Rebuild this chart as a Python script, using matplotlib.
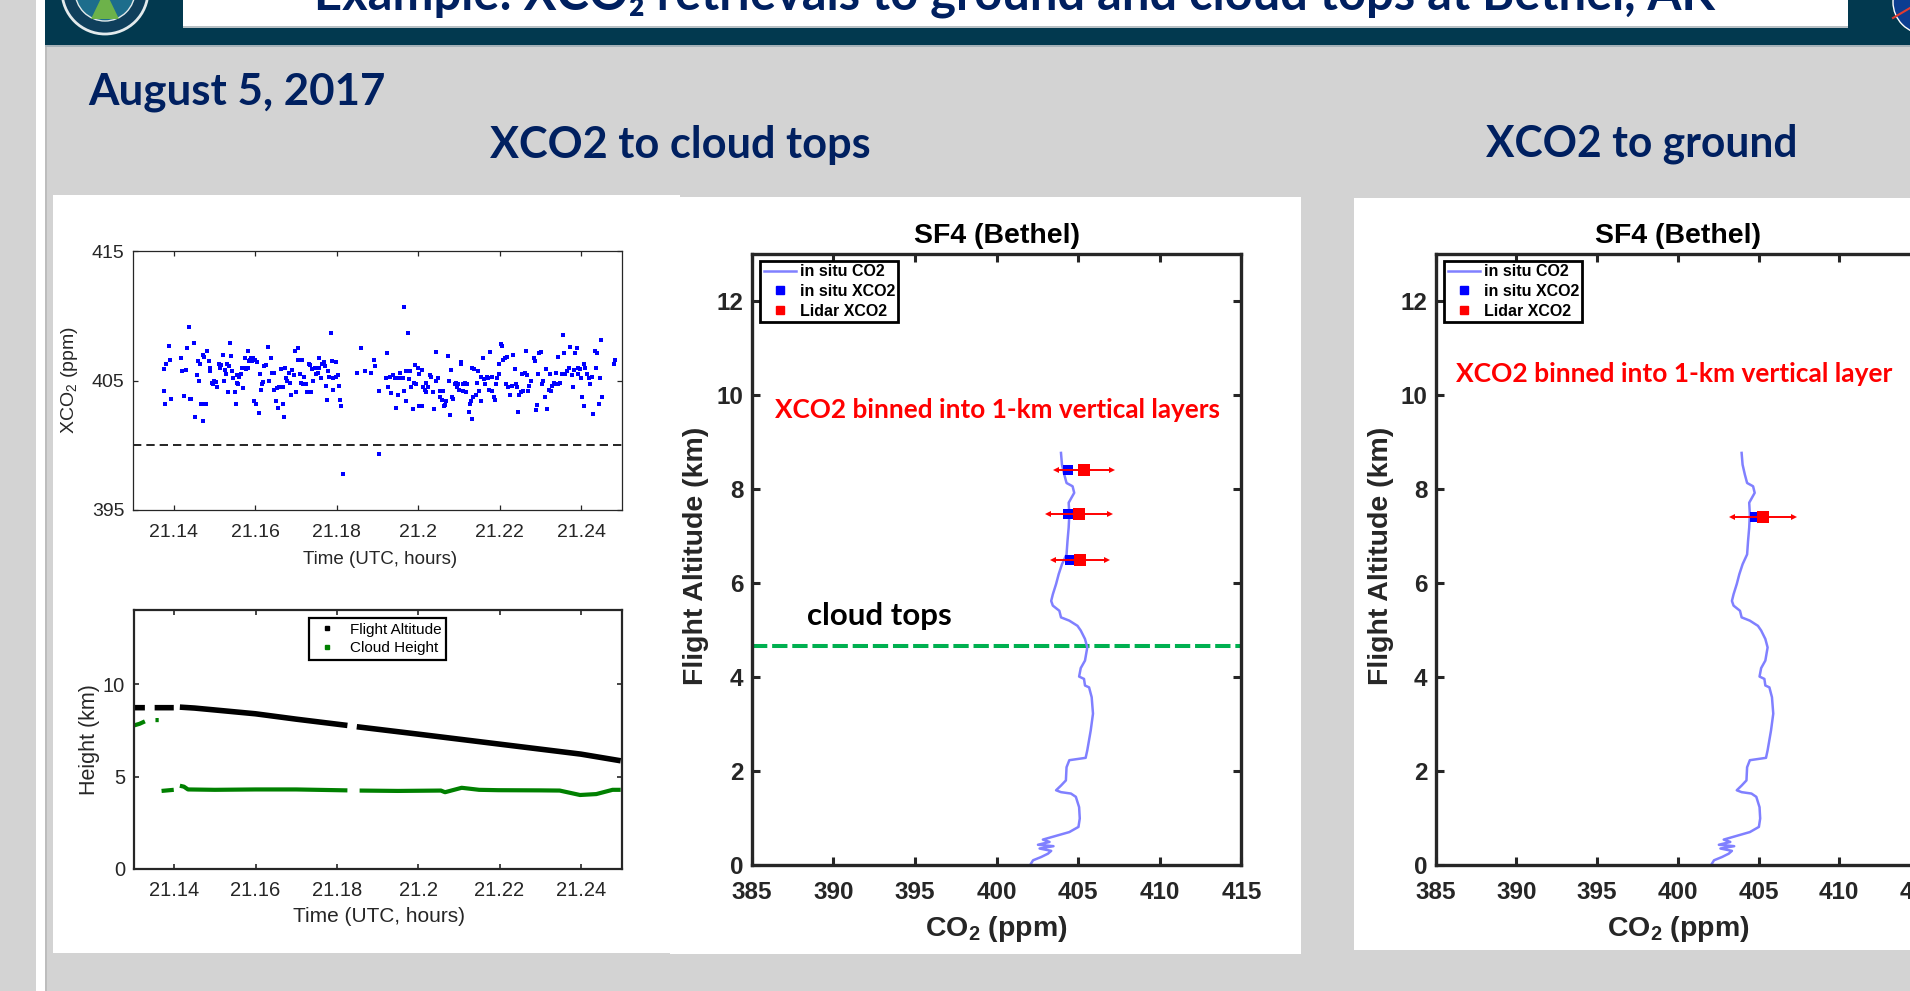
import matplotlib
matplotlib.use('Agg')
import matplotlib.pyplot as plt
from matplotlib.lines import Line2D
from matplotlib.patches import Rectangle, Circle, Polygon

W, H = 1910, 991
NAVY = '#002060'
INK = '#262626'
MATLAB_FONT = 'Liberation Sans'
SLIDE_FONT = ['Lato', 'DejaVu Sans']

plt.rcParams['font.family'] = MATLAB_FONT
plt.rcParams['mathtext.fontset'] = 'custom'
plt.rcParams['mathtext.rm'] = MATLAB_FONT
plt.rcParams['mathtext.bf'] = MATLAB_FONT + ':bold'

# XCO2 along the flight track (top left)
xco2_time = [
    21.1377, 21.1379, 21.1375, 21.1382, 21.1389, 21.1392, 21.1394, 21.1418, 21.1421, 21.1426,
    21.1433, 21.1437, 21.1439, 21.1443, 21.1429, 21.1449, 21.1452, 21.1456, 21.1460, 21.1462,
    21.1464, 21.1467, 21.1471, 21.1471, 21.1476, 21.1480, 21.1474, 21.1482, 21.1486, 21.1488,
    21.1490, 21.1494, 21.1496, 21.1499, 21.1503, 21.1507, 21.1511, 21.1513, 21.1517, 21.1522,
    21.1523, 21.1525, 21.1527, 21.1530, 21.1533, 21.1535, 21.1538, 21.1540, 21.1544, 21.1546,
    21.1550, 21.1552, 21.1554, 21.1556, 21.1558, 21.1560, 21.1564, 21.1568, 21.1570, 21.1572,
    21.1575, 21.1578, 21.1581, 21.1582, 21.1585, 21.1586, 21.1589, 21.1593, 21.1595, 21.1597,
    21.1600, 21.1603, 21.1605, 21.1609, 21.1611, 21.1614, 21.1616, 21.1619, 21.1622, 21.1626,
    21.1632, 21.1634, 21.1638, 21.1641, 21.1642, 21.1645, 21.1647, 21.1650, 21.1653, 21.1655,
    21.1659, 21.1664, 21.1667, 21.1668, 21.1671, 21.1673, 21.1675, 21.1679, 21.1682, 21.1685,
    21.1688, 21.1691, 21.1695, 21.1697, 21.1700, 21.1704, 21.1706, 21.1710, 21.1712, 21.1714,
    21.1718, 21.1720, 21.1724, 21.1728, 21.1733, 21.1734, 21.1737, 21.1739, 21.1742, 21.1746,
    21.1749, 21.1753, 21.1756, 21.1757, 21.1761, 21.1765, 21.1769, 21.1772, 21.1774, 21.1776,
    21.1778, 21.1782, 21.1786, 21.1788, 21.1790, 21.1792, 21.1797, 21.1798, 21.1802, 21.1806,
    21.1809, 21.1811, 21.1815,
    21.1850, 21.1860, 21.1870, 21.1884, 21.1891, 21.1894, 21.1903, 21.1903, 21.1921, 21.1924,
    21.1925, 21.1930, 21.1934, 21.1938, 21.1942, 21.1946, 21.1948, 21.1951, 21.1956, 21.1958,
    21.1962, 21.1965, 21.1966, 21.1969, 21.1971, 21.1975, 21.1977, 21.1979, 21.1983, 21.1987,
    21.1989, 21.1992, 21.1995, 21.1999, 21.2002, 21.2003, 21.2008, 21.2010, 21.2012, 21.2016,
    21.2018, 21.2020, 21.2024, 21.2028, 21.2032, 21.2036, 21.2038, 21.2043, 21.2044, 21.2049,
    21.2053, 21.2054, 21.2058, 21.2061, 21.2063, 21.2066, 21.2069, 21.2073, 21.2076, 21.2079,
    21.2081, 21.2084, 21.2086, 21.2090, 21.2092, 21.2094, 21.2098, 21.2100, 21.2104, 21.2106,
    21.2109, 21.2110, 21.2114, 21.2117, 21.2120, 21.2125, 21.2127, 21.2129, 21.2131, 21.2133,
    21.2135, 21.2138, 21.2141, 21.2145, 21.2147, 21.2150, 21.2153, 21.2155, 21.2159, 21.2161,
    21.2164, 21.2168, 21.2170, 21.2174, 21.2176, 21.2180, 21.2182, 21.2186, 21.2188, 21.2191,
    21.2194, 21.2197, 21.2199, 21.2202, 21.2205, 21.2209, 21.2213, 21.2215, 21.2217, 21.2221,
    21.2225, 21.2229, 21.2233, 21.2237, 21.2240, 21.2243, 21.2245, 21.2248, 21.2251, 21.2254,
    21.2258, 21.2262, 21.2265, 21.2268, 21.2270, 21.2273, 21.2276, 21.2283, 21.2287, 21.2289,
    21.2292, 21.2295, 21.2297, 21.2301, 21.2304, 21.2307, 21.2311, 21.2314, 21.2317, 21.2320,
    21.2324, 21.2325, 21.2329, 21.2332, 21.2336, 21.2338, 21.2342, 21.2344, 21.2348, 21.2352,
    21.2356, 21.2358, 21.2361, 21.2365, 21.2369, 21.2373, 21.2377, 21.2379, 21.2381, 21.2385,
    21.2389, 21.2391, 21.2393, 21.2398, 21.2399, 21.2402, 21.2406, 21.2407, 21.2410, 21.2414,
    21.2418, 21.2422, 21.2426, 21.2430, 21.2434, 21.2437, 21.2439, 21.2443, 21.2445, 21.2448,
    21.2451, 21.2480, 21.2482,
]
xco2_ppm = [
    404.2, 403.2, 405.9, 406.3, 407.7, 406.6, 403.6, 406.7, 405.7, 403.8,
    407.5, 409.1, 403.6, 403.6, 405.8, 407.9, 402.2, 405.4, 406.5, 405.0,
    406.3, 403.2, 401.9, 407.0, 403.2, 403.2, 406.8, 407.3, 406.5, 406.0,
    405.7, 404.8, 404.7, 405.0, 404.9, 404.5, 406.3, 406.0, 406.2, 407.0,
    405.0, 405.8, 405.5, 406.3, 404.1, 406.1, 407.9, 406.9, 405.7, 405.2,
    404.1, 403.2, 404.8, 405.4, 404.7, 405.3, 405.5, 406.0, 404.4, 406.0,
    406.7, 405.9, 406.0, 407.3, 406.5, 406.6, 406.7, 406.5, 406.7, 403.4,
    406.6, 403.2, 406.4, 402.5, 405.5, 404.3, 404.7, 404.9, 406.1, 406.2,
    407.6, 405.0, 406.7, 405.6, 405.6, 404.3, 405.6, 403.4, 404.4, 402.9,
    404.5, 405.9, 404.5, 403.2, 402.2, 406.0, 405.2, 405.0, 405.6, 404.8,
    403.9, 405.8, 405.4, 407.3, 404.1, 407.5, 406.6, 405.5, 404.8, 406.6,
    404.7, 405.3, 404.7, 404.1, 406.3, 406.2, 404.1, 405.9, 405.0, 406.0,
    405.5, 405.6, 406.7, 406.0, 405.2, 406.3, 406.4, 406.1, 404.6, 403.5,
    405.7, 405.3, 408.7, 406.5, 405.2, 404.3, 406.4, 405.3, 405.4, 404.6,
    403.5, 403.0, 397.8,
    405.6, 407.5, 405.7, 405.6, 406.6, 406.1, 404.2, 399.3, 405.2, 407.1,
    404.5, 405.3, 404.0, 405.4, 405.2, 402.9, 405.2, 403.9, 405.6, 405.2,
    405.2, 404.2, 410.7, 405.7, 403.4, 408.7, 405.1, 405.7, 404.5, 402.8,
    404.8, 406.2, 404.7, 406.0, 403.0, 405.5, 405.8, 403.0, 404.5, 404.3,
    404.8, 404.1, 404.5, 405.4, 405.3, 404.1, 402.8, 405.0, 407.2, 405.2,
    404.2, 403.7, 403.5, 404.2, 403.0, 403.1, 403.4, 406.9, 405.0, 402.3,
    405.8, 403.7, 403.6, 404.7, 404.8, 404.5, 404.7, 404.3, 406.3, 406.4,
    404.7, 404.2, 404.8, 404.1, 404.7, 402.6, 403.2, 403.4, 402.0, 406.0,
    403.7, 405.9, 403.9, 404.8, 405.7, 404.2, 403.4, 405.3, 406.7, 405.1,
    404.7, 405.3, 405.2, 404.3, 407.2, 405.3, 404.2, 403.7, 403.5, 404.7,
    405.2, 406.3, 405.5, 407.8, 407.7, 406.6, 406.7, 404.7, 406.8, 404.5,
    403.9, 404.6, 407.0, 405.9, 404.7, 404.5, 402.6, 403.9, 404.1, 405.5,
    404.2, 405.6, 407.3, 405.4, 404.2, 404.6, 405.0, 406.7, 406.5, 402.7,
    403.1, 405.5, 407.1, 407.2, 404.7, 405.0, 403.7, 405.9, 402.8, 404.3,
    405.5, 404.2, 404.6, 404.8, 404.7, 405.6, 406.8, 404.7, 404.8, 405.5,
    408.5, 407.1, 405.5, 405.7, 406.0, 407.6, 405.4, 404.5, 405.8, 407.1,
    407.5, 405.5, 406.0, 405.9, 405.2, 403.7, 406.3, 403.0, 406.0, 405.5,
    405.2, 404.7, 405.3, 402.4, 407.3, 406.0, 407.1, 403.2, 405.2, 408.1,
    403.7, 406.3, 406.6,
]
xco2_reference = 400.0

# aircraft altitude and lidar cloud height (bottom left), NaN marks data gaps
nan = float('nan')
flight_time = [21.1298, 21.1328, nan, 21.1352, 21.1399, nan,
               21.1414, 21.1450, 21.1600, 21.1700, 21.1826, nan,
               21.1849, 21.2000, 21.2200, 21.2400, 21.2498]
flight_alt = [8.72, 8.72, nan, 8.72, 8.72, nan,
              8.75, 8.70, 8.39, 8.10, 7.76, nan,
              7.69, 7.29, 6.75, 6.21, 5.85]
cloud_time = [21.1298, 21.1315, 21.1328, nan, 21.1354, 21.1362, nan,
              21.1369, 21.1399, nan,
              21.1414, 21.1424, 21.1434, 21.1500, 21.1600, 21.1700, 21.1826, nan,
              21.1856, 21.1950, 21.2056, 21.2066, 21.2107, 21.2150, 21.2197,
              21.2300, 21.2348, 21.2398, 21.2438, 21.2478, 21.2498]
cloud_height = [7.74, 7.85, 7.98, nan, 8.05, 8.05, nan,
                4.22, 4.28, nan,
                4.50, 4.45, 4.30, 4.28, 4.30, 4.30, 4.25, nan,
                4.24, 4.22, 4.24, 4.15, 4.39, 4.28, 4.26,
                4.25, 4.24, 4.00, 4.05, 4.28, 4.28]

time_ticks = [21.14, 21.16, 21.18, 21.20, 21.22, 21.24]
time_tick_labels = ['21.14', '21.16', '21.18', '21.2', '21.22', '21.24']

# in situ CO2 profile from the spiral
profile_co2 = [402.08, 402.24, 402.74, 403.15, 403.35, 402.64, 403.49, 402.54, 403.25, 402.84,
               403.75, 404.46, 405.02, 405.10, 405.06, 404.86, 404.56, 403.95, 403.65, 403.95,
               404.25, 404.29, 404.46, 405.46, 405.56, 405.77, 405.91, 405.83, 405.67, 405.42,
               405.36, 405.06, 405.16, 405.42, 405.56, 405.42, 405.16, 404.96, 404.46, 403.95,
               403.85, 403.45, 403.35, 403.45, 403.65, 403.81, 404.01, 404.29, 404.35, 404.42,
               404.46, 404.42, 404.76, 404.66, 404.29, 404.15, 404.01, 403.95]
profile_alt = [0.00, 0.09, 0.16, 0.23, 0.29, 0.34, 0.39, 0.42, 0.48, 0.53,
               0.62, 0.69, 0.80, 0.98, 1.22, 1.44, 1.51, 1.54, 1.58, 1.68,
               1.79, 2.07, 2.22, 2.27, 2.43, 2.85, 3.21, 3.56, 3.77, 3.81,
               3.95, 4.00, 4.18, 4.34, 4.62, 4.80, 4.98, 5.08, 5.19, 5.26,
               5.40, 5.51, 5.61, 5.75, 5.97, 6.18, 6.39, 6.60, 6.89, 7.17,
               7.45, 7.70, 7.91, 8.05, 8.12, 8.30, 8.51, 8.76]

# 1-km layers above the cloud tops
layer_alt = [8.39, 7.45, 6.48]
layer_insitu = [404.35, 404.40, 404.50]
layer_lidar = [405.36, 405.06, 405.12]
layer_err = [1.70, 1.88, 1.66]

# single layer retrieved down to the ground
ground_alt = [7.39]
ground_insitu = [404.75]
ground_lidar = [405.27]
ground_err = [1.92]

cloud_top_km = 4.65
co2_ticks = [385, 390, 395, 400, 405, 410, 415]
alt_ticks = [0, 2, 4, 6, 8, 10, 12]


def px_rect(x0, y0, x1, y1):
    return [x0 / W, 1 - y1 / H, (x1 - x0) / W, (y1 - y0) / H]


fig = plt.figure(figsize=(W / 100, H / 100), dpi=100)
fig.patch.set_facecolor('#d3d3d3')

# slide background drawn in pixel units
bg = fig.add_axes([0, 0, 1, 1])
bg.set_xlim(0, W)
bg.set_ylim(H, 0)
bg.axis('off')
bg.set_zorder(-5)


def box(x0, y0, x1, y1, color):
    bg.add_patch(Rectangle((x0, y0), x1 - x0, y1 - y0, facecolor=color, edgecolor='none'))


box(36, 0, 45, H, 'white')
box(45, 0, 47, H, '#bdbdbd')
box(45, 0, W, 45, '#02394f')
box(45, 45, W, 47, '#a7b2b8')
box(183, 0, 1848, 27, 'white')
box(183, 26, 1848, 27.5, '#b8c0c4')
box(53, 195, 680, 953, 'white')
box(670, 197, 1301, 954, 'white')
box(1354, 198, W, 950, 'white')

# project badge and agency logo in the header corners
bg.add_patch(Circle((105, -9), 43, facecolor='#0f3f5c', edgecolor='#e3eaec', lw=2))
bg.add_patch(Circle((105, -9), 30, facecolor='#1d6d8c', edgecolor='#e3eaec', lw=1))
bg.add_patch(Polygon([[91, 19], [119, 19], [105, -10]], facecolor='#6db24a'))
bg.add_patch(Circle((1925, 2), 32, facecolor='#0b3d91', edgecolor='white', lw=1))
bg.plot([1893, 1910], [18, 8], color='#e03c31', lw=1.5)

title = bg.text(314, 10, 'Example: XCO\u2082 retrievals to ground and cloud tops at Bethel, AK',
                family=SLIDE_FONT, weight='bold', color=NAVY, fontsize=32, va='baseline')
date = bg.text(88, 105, 'August 5, 2017', family=SLIDE_FONT, weight='bold',
               color=NAVY, fontsize=30, va='baseline')
head_left = bg.text(490, 158, 'XCO2 to cloud tops', family=SLIDE_FONT, weight='bold',
                    color=NAVY, fontsize=30, va='baseline')
head_right = bg.text(1486, 157, 'XCO2 to ground', family=SLIDE_FONT, weight='bold',
                     color=NAVY, fontsize=30, va='baseline')


def fit(txt, width):
    renderer = fig.canvas.get_renderer()
    w = txt.get_window_extent(renderer).width
    txt.set_fontsize(txt.get_fontsize() * width / w)


def matlab_style(ax, lw, tick_len, tick_w, size, weight='normal', pad=5):
    for s in ax.spines.values():
        s.set_linewidth(lw)
        s.set_color(INK)
    ax.tick_params(direction='in', top=True, right=True, length=tick_len,
                   width=tick_w, colors=INK, labelsize=size, pad=pad)
    for lab in ax.get_xticklabels() + ax.get_yticklabels():
        lab.set_fontweight(weight)


# top left: XCO2 time series
ax1 = fig.add_axes(px_rect(133, 251, 622, 510))
ax1.plot(xco2_time, xco2_ppm, 's', color='blue', ms=2.8, mew=0)
ax1.axhline(xco2_reference, color='black', lw=1.2, dashes=(5, 3))
ax1.set_xlim(21.13, 21.25)
ax1.set_ylim(395, 415)
ax1.set_xticks(time_ticks, time_tick_labels)
ax1.set_yticks([395, 405, 415])
matlab_style(ax1, 0.9, 3.6, 0.9, 14, pad=6)
ax1.tick_params(axis='x', pad=10)
ax1.set_xlabel('Time (UTC, hours)', fontsize=13.5, color=INK)
ax1.xaxis.set_label_coords(0.505, -0.19)
ax1.xaxis.label.set_va('center')
ax1.set_ylabel('XCO$_2$ (ppm)', fontsize=14, color=INK)
ax1.yaxis.set_label_coords(-0.13, 0.502)
ax1.yaxis.label.set_va('center')

# bottom left: flight altitude and cloud height
ax2 = fig.add_axes(px_rect(133.5, 610, 621.5, 869))
ax2.plot(flight_time, flight_alt, color='black', lw=4, solid_capstyle='butt')
ax2.plot(cloud_time, cloud_height, color='#008000', lw=3, solid_capstyle='butt')
ax2.set_xlim(21.13, 21.25)
ax2.set_ylim(0, 14)
ax2.set_xticks(time_ticks, time_tick_labels)
ax2.set_yticks([0, 5, 10])
matlab_style(ax2, 1.6, 3.6, 1.2, 14.5, pad=6)
ax2.tick_params(axis='x', pad=9)
ax2.set_xlabel('Time (UTC, hours)', fontsize=15, color=INK)
ax2.xaxis.set_label_coords(0.504, -0.185)
ax2.xaxis.label.set_va('center')
ax2.set_ylabel('Height (km)', fontsize=15.5, color=INK)
ax2.yaxis.set_label_coords(-0.09, 0.50)
ax2.yaxis.label.set_va('center')
h_handles = [Line2D([], [], marker='s', ls='none', color='black', ms=3.5),
             Line2D([], [], marker='s', ls='none', color='#008000', ms=3.5)]
leg2 = ax2.legend(h_handles, ['Flight Altitude', 'Cloud Height'], loc='upper center',
                  bbox_to_anchor=(0.5, 0.969), fancybox=False, framealpha=1,
                  edgecolor='black', prop={'size': 11}, borderpad=0.3,
                  labelspacing=0.3, handlelength=1.8, handletextpad=0.6, borderaxespad=0)
leg2.get_frame().set_linewidth(1.6)


def profile_panel(rect, alt, insitu, lidar, err, note, note_xy, note_width):
    ax = fig.add_axes(rect)
    ax.plot(profile_co2, profile_alt, color='#8080ff', lw=1.8, zorder=2)
    ax.plot(insitu, alt, 's', color='blue', ms=7.5, mew=0, zorder=3)
    lo = [v - e for v, e in zip(lidar, err)]
    hi = [v + e for v, e in zip(lidar, err)]
    ax.hlines(alt, lo, hi, color='red', lw=1.4, zorder=4)
    ax.plot(lo, alt, '<', color='red', ms=5, mew=0, zorder=4)
    ax.plot(hi, alt, '>', color='red', ms=5, mew=0, zorder=4)
    ax.plot(lidar, alt, 's', color='red', ms=8.3, mew=0, zorder=5)
    ax.set_xlim(385, 415)
    ax.set_ylim(0, 13)
    ax.set_xticks(co2_ticks)
    ax.set_yticks(alt_ticks)
    matlab_style(ax, 2.4, 5.8, 2.2, 17.5, weight='bold', pad=6)
    ax.tick_params(axis='x', pad=12)
    ax.set_title('SF4 (Bethel)', fontsize=20.5, weight='bold', pad=8)
    ax.set_xlabel('CO$_\\mathbf{2}$ (ppm)', fontsize=20.5, weight='bold', color=INK)
    ax.xaxis.set_label_coords(0.5, -0.106)
    ax.xaxis.label.set_va('center')
    ax.set_ylabel('Flight Altitude (km)', fontsize=20.5, weight='bold', color=INK)
    ax.yaxis.set_label_coords(-0.1135, 0.505)
    ax.yaxis.label.set_va('center')
    handles = [Line2D([], [], color='#8080ff', lw=1.8),
               Line2D([], [], marker='s', ls='none', color='blue', ms=6),
               Line2D([], [], marker='s', ls='none', color='red', ms=6)]
    leg = ax.legend(handles, ['in situ CO2', 'in situ XCO2', 'Lidar XCO2'],
                    loc='upper left', bbox_to_anchor=(0.018, 0.988), fancybox=False,
                    framealpha=1, edgecolor='black',
                    prop={'size': 11.5, 'weight': 'bold'}, borderpad=0.2,
                    labelspacing=0.3, handlelength=2.0, handletextpad=0.25,
                    borderaxespad=0)
    leg.get_frame().set_linewidth(2)
    txt = ax.text(note_xy[0], note_xy[1], note, color='red', family=SLIDE_FONT,
                  weight='bold', fontsize=18, va='center')
    fit(txt, note_width)
    return ax


ax3 = profile_panel(px_rect(751.6, 253.7, 1241.4, 864.5), layer_alt, layer_insitu,
                    layer_lidar, layer_err, 'XCO2 binned into 1-km vertical layers',
                    (386.43, 9.68), 445)
ax3.axhline(cloud_top_km, color='#00b050', lw=2.9, dashes=(3.8, 1.2), zorder=1)
tops = ax3.text(388.4, 5.1, 'cloud tops', family=SLIDE_FONT, weight='bold',
                fontsize=21, color='black', va='baseline')
fit(tops, 145)

profile_panel(px_rect(1435.7, 253.7, 1920, 864.5), ground_alt, ground_insitu,
              ground_lidar, ground_err, 'XCO2 binned into 1-km vertical layer',
              (386.26, 10.43), 437)

fit(title, 1403)
fit(date, 297)
fit(head_left, 380)
fit(head_right, 311)

fig.savefig('out.png', dpi=100, facecolor=fig.get_facecolor())
